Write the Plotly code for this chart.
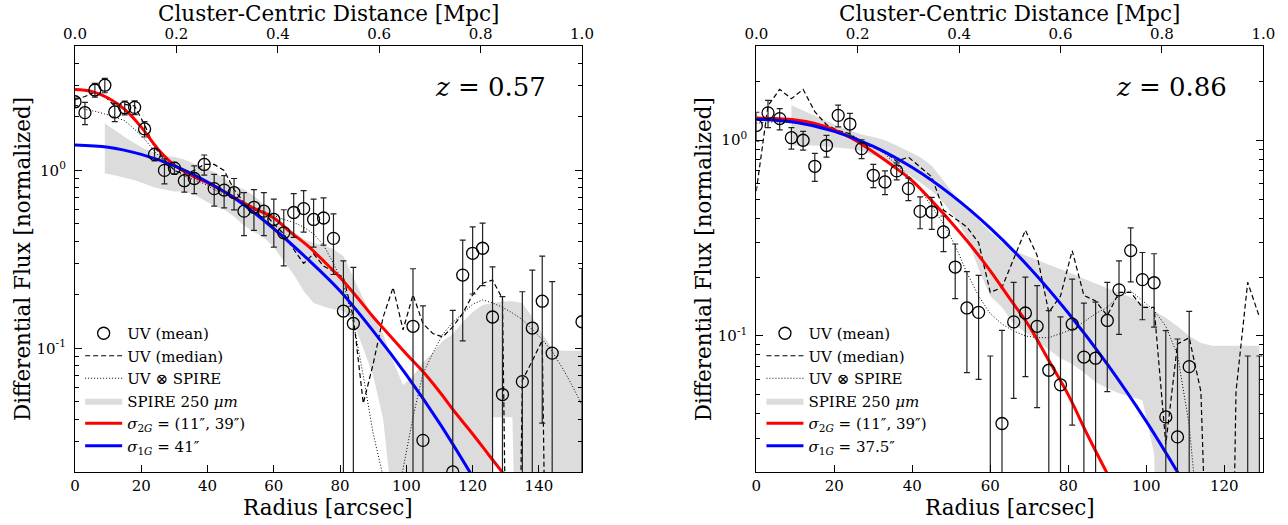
import math
import plotly.graph_objects as go

FONT = "DejaVu Serif"

# ---------------- z = 0.57 panel ----------------
r_a = list(range(0, 154, 3))  # radius grid of the stacked points [arcsec]
mean_a = [2.43, 2.11, 2.83, 3.01, 2.13, 2.25, 2.26, 1.71, 1.23, 1.00,
          1.03, 0.875, 0.90, 1.08, 0.79, 0.775, 0.75, 0.59, 0.62, 0.59,
          0.53, 0.446, 0.58, 0.61, 0.53, 0.54, 0.415, 0.162, 0.138, -0.11,
          -0.15, -0.11, -0.05, -0.055, 0.133, 0.0304, -0.08, -0.06, 0.0202, 0.258,
          0.342, 0.365, 0.150, 0.055, -0.01, 0.065, 0.130, 0.184, 0.094, -0.015,
          -0.03, 0.141]
err_a = [0.12, 0.30, 0.25, 0.28, 0.25, 0.20, 0.20, 0.17, 0.10, 0.16,
         0.08, 0.12, 0.16, 0.14, 0.16, 0.16, 0.15, 0.16, 0.16, 0.16,
         0.16, 0.155, 0.16, 0.16, 0.16, 0.16, 0.155, 0.148, 0.147, 0.153,
         0.14, 0.153, 0.155, 0.152, 0.147, 0.143, 0.152, 0.15, 0.143, 0.148,
         0.14, 0.14, 0.137, 0.14, 0.17, 0.143, 0.145, 0.146, 0.143, 0.143,
         0.142, 0.14]
median_a = [2.5, 2.6, 2.75, 2.6, 2.3, 2.35, 2.3, 1.8, 1.35, 1.15,
            1.0, 0.95, 1.0, 1.08, 1.08, 1.0, 0.78, 0.66, 0.6, 0.58,
            0.5, 0.44, 0.36, 0.30, 0.34, 0.29, 0.27, 0.25, 0.15, 0.049,
            0.082, 0.15, 0.22, 0.127, 0.20, 0.138, 0.121, 0.116, 0.132, 0.157,
            0.20, 0.232, 0.242, 0.19, 1e-5, 0.066, 0.085, 0.111, 1e-5, 1e-5,
            1e-5, 1e-5]
stack_a = [2.3, 2.2, 2.15, 2.08, 2.0, 1.9, 1.7, 1.5, 1.28, 1.12,
           1.0, 0.93, 0.88, 0.84, 0.78, 0.73, 0.69, 0.65, 0.62, 0.59,
           0.56, 0.53, 0.51, 0.48, 0.44, 0.38, 0.30, 0.23, 0.14, 0.07,
           0.033, 0.019, 0.013, 0.021, 0.041, 0.072, 0.094, 0.12, 0.14, 0.157,
           0.177, 0.187, 0.18, 0.17, 0.158, 0.145, 0.128, 0.112, 0.096, 0.078,
           0.062, 0.048]
r_band_a = list(range(9, 154, 3))
band_hi_a = [1.84, 1.68, 1.54, 1.42, 1.32, 1.26, 1.21, 1.19, 1.15, 1.09,
             1.03, 0.98, 0.90, 0.82, 0.78, 0.72, 0.64, 0.57, 0.50, 0.45,
             0.41, 0.39, 0.38, 0.36, 0.33, 0.25, 0.19, 0.15, 0.12, 0.085,
             0.062, 0.07, 0.083, 0.095, 0.11, 0.12, 0.14, 0.16, 0.175, 0.18,
             0.183, 0.184, 0.18, 0.15, 0.12, 0.10, 0.097, 0.097, 0.097]
band_lo_a = [0.96, 0.94, 0.91, 0.88, 0.84, 0.80, 0.78, 0.76, 0.76, 0.73,
             0.68, 0.63, 0.60, 0.55, 0.49, 0.45, 0.42, 0.37, 0.31, 0.26,
             0.21, 0.18, 0.172, 0.166, 0.162, 0.14, 0.10, 0.07, 0.04, 0.012,
             1e-4, 1e-4, 1e-4, 1e-4, 1e-4, 1e-4, 1e-4, 1e-4, 1e-4, 0.041,
             0.041, 0.041, 1e-4, 1e-4, 1e-4, 1e-4, 1e-4, 1e-4, 1e-4]
r_fit_a = list(range(0, 135, 5))
fit2g_a = [2.85, 2.78, 2.55, 2.2, 1.75, 1.32, 1.07, 0.94, 0.85, 0.76,
           0.67, 0.6, 0.54, 0.45, 0.38, 0.31, 0.25, 0.195, 0.15, 0.118,
           0.093, 0.074, 0.057, 0.043, 0.033, 0.025, 0.019]
r_fit1_a = list(range(0, 130, 10))
fit1g_a = [1.39, 1.35, 1.23, 1.06, 0.86, 0.66, 0.47, 0.32, 0.21, 0.125,
           0.071, 0.038, 0.019]

# ---------------- z = 0.86 panel ----------------
r_b = list(range(0, 130, 3))
mean_b = [1.19, 1.38, 1.29, 1.03, 1.00, 0.736, 0.94, 1.34, 1.21, 0.906,
          0.662, 0.612, 0.697, 0.566, 0.433, 0.43, 0.34, 0.225, 0.139, 0.132,
          0.01, 0.0357, 0.118, 0.131, 0.112, 0.0668, 0.0563, 0.115, 0.078, 0.077,
          0.12, 0.172, 0.273, 0.194, 0.187, 0.0386, 0.0305, 0.0697, -0.034, -0.046,
          -0.08, -0.08, 0.011, 0.011]
err_b = [0.20, 0.22, 0.16, 0.13, 0.11, 0.12, 0.12, 0.17, 0.16, 0.10,
         0.09, 0.085, 0.07, 0.075, 0.08, 0.08, 0.07, 0.07, 0.074, 0.072,
         0.069, 0.071, 0.07, 0.069, 0.069, 0.068, 0.069, 0.08, 0.069, 0.072,
         0.068, 0.07, 0.084, 0.073, 0.076, 0.068, 0.066, 0.064, 0.068, 0.067,
         0.07, 0.07, 0.068, 0.068]
median_b = [0.55, 1.5, 1.82, 1.63, 1.82, 1.4, 1.2, 1.12, 1.08, 0.97,
            0.92, 0.87, 0.78, 0.82, 0.73, 0.65, 0.44, 0.40, 0.36, 0.30,
            0.167, 0.177, 0.25, 0.347, 0.258, 0.132, 0.16, 0.273, 0.161, 0.151,
            0.127, 0.167, 0.167, 0.14, 0.14, 0.028, 0.091, 0.098, 0.052, 1e-5,
            1e-5, 0.052, 0.188, 0.125]
stack_b = [1.22, 1.24, 1.24, 1.23, 1.22, 1.2, 1.16, 1.12, 1.07, 1.0,
           0.93, 0.85, 0.75, 0.66, 0.56, 0.46, 0.374, 0.29, 0.21, 0.16,
           0.13, 0.115, 0.106, 0.10, 0.098, 0.098, 0.103, 0.108, 0.118, 0.13,
           0.14, 0.16, 0.17, 0.152, 0.135, 0.112, 0.08, 0.035, 0.008, 1e-5,
           1e-5, 1e-5, 1e-5, 1e-5]
r_band_b = list(range(9, 130, 3))
band_hi_b = [1.51, 1.42, 1.33, 1.25, 1.18, 1.12, 1.07, 1.04, 1.0, 0.94,
             0.88, 0.82, 0.74, 0.62, 0.52, 0.45, 0.39, 0.34, 0.30, 0.275,
             0.258, 0.245, 0.232, 0.22, 0.208, 0.196, 0.185, 0.175, 0.166, 0.158,
             0.146, 0.135, 0.124, 0.112, 0.10, 0.092, 0.089, 0.089, 0.089, 0.089,
             0.089]
band_lo_b = [0.94, 0.94, 0.94, 0.93, 0.92, 0.905, 0.88, 0.84, 0.79, 0.74,
             0.67, 0.61, 0.55, 0.48, 0.40, 0.32, 0.22, 0.16, 0.14, 0.115,
             0.105, 0.095, 0.085, 0.077, 0.072, 0.065, 0.058, 0.054, 0.051, 0.049,
             0.047, 0.025, 1e-4, 1e-4, 1e-4, 1e-4, 1e-4, 1e-4, 1e-4, 1e-4,
             1e-4]
r_fit_b = list(range(0, 95, 5))
fit2g_b = [1.3, 1.29, 1.27, 1.22, 1.13, 1.01, 0.87, 0.74, 0.62, 0.49,
           0.38, 0.29, 0.215, 0.155, 0.112, 0.075, 0.05, 0.031, 0.0198]
r_fit1_b = list(range(0, 120, 10))
fit1g_b = [1.28, 1.235, 1.11, 0.93, 0.725, 0.526, 0.356, 0.224, 0.131, 0.0718,
           0.0366, 0.0173]

panels = [
    dict(r=r_a, mean=mean_a, err=err_a, med=median_a, stack=stack_a,
         rb=r_band_a, hi=band_hi_a, lo=band_lo_a, r2=r_fit_a, f2=fit2g_a,
         r1=r_fit1_a, f1=fit1g_a, sig1="41″", z="0.57", xmax=153,
         ymax=5.0, dom=[75 / 1288, 582 / 1288]),
    dict(r=r_b, mean=mean_b, err=err_b, med=median_b, stack=stack_b,
         rb=r_band_b, hi=band_hi_b, lo=band_lo_b, r2=r_fit_b, f2=fit2g_b,
         r1=r_fit1_b, f1=fit1g_b, sig1="37.5″", z="0.86", xmax=130,
         ymax=3.03, dom=[756.3 / 1288, 1263.3 / 1288]),
]

fig = go.Figure()
ydom = [1 - 472 / 525, 1 - 46 / 525]
minor_vals = [k * 10 ** e for e in (-2, -1, 0) for k in range(2, 10)]
annos = []
black = "black"

for i, p in enumerate(panels):
    xa = "x" if i == 0 else "x2"
    ya = "y" if i == 0 else "y2"
    xt = "x3" if i == 0 else "x4"
    lg = "legend" if i == 0 else "legend2"
    common = dict(xaxis=xa, yaxis=ya, legend=lg)

    fig.add_trace(go.Scatter(x=p["rb"], y=p["lo"], mode="lines",
                             line=dict(width=0), showlegend=False,
                             hoverinfo="skip", **common))
    fig.add_trace(go.Scatter(x=p["rb"], y=p["hi"], mode="lines",
                             line=dict(width=0), fill="tonexty",
                             fillcolor="#dcdcdc", name="SPIRE 250 <i>μm</i>",
                             legendrank=4, **common))
    fig.add_trace(go.Scatter(x=p["r"], y=p["stack"], mode="lines",
                             line=dict(color=black, width=1, dash="1px,2px"),
                             name="UV ⊗ SPIRE", legendrank=3, **common))
    fig.add_trace(go.Scatter(x=p["r"], y=p["med"], mode="lines",
                             line=dict(color=black, width=1.2, dash="5px,3px"),
                             name="UV (median)", legendrank=2, **common))
    fig.add_trace(go.Scatter(x=p["r2"], y=p["f2"], mode="lines",
                             line=dict(color="#ff0000", width=3, shape="spline"),
                             name="<i>σ</i><sub>2<i>G</i></sub> = (11″, 39″)",
                             legendrank=5, **common))
    fig.add_trace(go.Scatter(x=p["r1"], y=p["f1"], mode="lines",
                             line=dict(color="#0000ff", width=3, shape="spline"),
                             name="<i>σ</i><sub>1<i>G</i></sub> = " + p["sig1"],
                             legendrank=6, **common))
    fig.add_trace(go.Scatter(x=p["r"], y=p["mean"], mode="markers",
                             marker=dict(symbol="circle-open", size=12,
                                         color=black, line=dict(width=1.3)),
                             error_y=dict(type="data", array=p["err"],
                                          color="#222", thickness=1.2, width=3),
                             name="UV (mean)", legendrank=1, **common))
    # empty trace so that the Mpc axis on top gets drawn
    fig.add_trace(go.Scatter(x=[], y=[], xaxis=xt, yaxis=ya, showlegend=False,
                             hoverinfo="skip"))

    sfx = "" if i == 0 else "2"
    axis_font = dict(family=FONT, size=15, color=black)
    fig.update_layout(**{
        "xaxis" + sfx: dict(domain=p["dom"], range=[0, p["xmax"]], anchor=ya,
                            dtick=20, ticks="inside", ticklen=7, tickwidth=1,
                            tickcolor=black, showline=True, linecolor=black,
                            linewidth=1.3, showgrid=False, zeroline=False,
                            tickfont=axis_font, automargin=False),
        "yaxis" + sfx: dict(domain=ydom, type="log", anchor=xa,
                            range=[-1.695, math.log10(p["ymax"])],
                            tickvals=[0.1, 1],
                            ticktext=["10<sup>-1</sup>", "10<sup>0</sup>"],
                            ticks="inside", ticklen=7, tickwidth=1,
                            tickcolor=black, ticklabelstandoff=5,
                            minor=dict(tickvals=minor_vals, ticks="inside",
                                       ticklen=4, tickcolor=black),
                            showline=True, mirror="ticks", linecolor=black,
                            linewidth=1.3, showgrid=False, zeroline=False,
                            tickfont=axis_font, automargin=False),
        "xaxis" + xt[1:]: dict(overlaying=xa, anchor=ya, side="top",
                               range=[0, 1], dtick=0.2, tickformat=".1f",
                               ticks="inside", ticklen=7, tickcolor=black,
                               showline=True, linecolor=black, linewidth=1.3,
                               showgrid=False, zeroline=False,
                               tickfont=axis_font, automargin=False),
        lg: dict(x=p["dom"][0] + 0.004, y=1 - 317 / 525, xanchor="left",
                 yanchor="top", bgcolor="rgba(0,0,0,0)", itemwidth=37,
                 traceorder="normal", tracegroupgap=0,
                 font=dict(family=FONT, size=15, color=black)),
    })

    cx = (p["dom"][0] + p["dom"][1]) / 2
    title_font = dict(family=FONT, size=21.5, color=black)
    annos += [
        dict(text="Cluster-Centric Distance [Mpc]", x=cx, y=1 - 13 / 525,
             xanchor="center", yanchor="middle", font=title_font),
        dict(text="Radius [arcsec]", x=cx, y=1 - 507 / 525,
             xanchor="center", yanchor="middle", font=title_font),
        dict(text="Differential Flux [normalized]", textangle=-90,
             x=(p["dom"][0] * 1288 - 53) / 1288, y=(ydom[0] + ydom[1]) / 2,
             xanchor="center", yanchor="middle", font=title_font),
        dict(text="<i>z</i> = " + p["z"], x=p["dom"][1] - 34 / 1288,
             y=1 - 87 / 525, xanchor="right", yanchor="middle",
             font=dict(family=FONT, size=26, color=black)),
    ]

for a in annos:
    a.update(xref="paper", yref="paper", showarrow=False)

fig.update_layout(width=1288, height=525, margin=dict(l=0, r=0, t=0, b=0),
                  autosize=False, plot_bgcolor="white", paper_bgcolor="white",
                  annotations=annos, showlegend=True,
                  font=dict(family=FONT, color=black))
fig.write_html("out.html",
               config={"displayModeBar": False, "responsive": False},
               post_script="document.body.style.margin='0';"
                           "document.body.style.overflow='hidden';")
